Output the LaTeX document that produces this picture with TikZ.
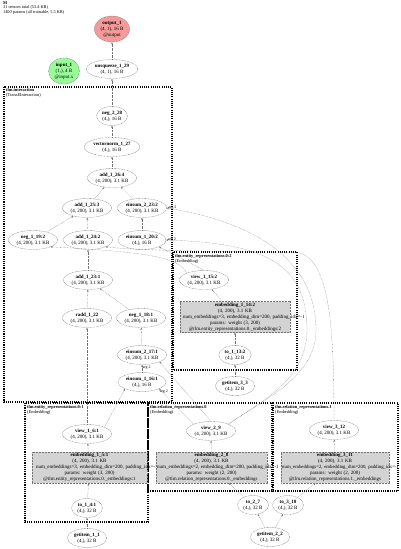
\documentclass[tikz,border=0pt]{standalone}
\usepackage{fontspec}
\setmainfont{Liberation Serif}
\usetikzlibrary{positioning}
\usetikzlibrary{shapes.geometric}
\usetikzlibrary{arrows.meta}

\definecolor{outred}{HTML}{F49A9A}
\definecolor{ingreen}{HTML}{98FB98}
\definecolor{modgray}{HTML}{D3D3D3}

\begin{document}
\begin{tikzpicture}[x=1pt, y=-1pt,
    opnode/.style={ellipse, draw=black!55, line width=0.3pt, dash pattern=on 0.9pt off 0.6pt, inner sep=1pt, minimum width=31pt, minimum height=19pt, align=center, font=\fontsize{5}{6}\selectfont},
    outnode/.style={opnode, fill=outred, minimum height=26pt},
    innode/.style={opnode, fill=ingreen, minimum height=26pt},
    layernode/.style={rectangle, draw=black!55, line width=0.3pt, dash pattern=on 0.9pt off 0.6pt, fill=modgray, inner sep=1.2pt, minimum height=31pt, align=center, font=\fontsize{5}{6}\selectfont},
    flow/.style={draw=black!55, line width=0.3pt, dash pattern=on 0.6pt off 0.8pt, -{Stealth[length=2.2pt, width=1.8pt]}},
    modbox/.style={draw=black, line width=1.5pt, dash pattern=on 1.1pt off 1.1pt},
    modlabel/.style={anchor=north west, align=left, inner sep=0pt, font=\fontsize{4.4}{5}\selectfont},
    arglabel/.style={inner sep=0.5pt, font=\fontsize{4}{4.5}\selectfont}]
    \useasboundingbox (0,0) rectangle (400,549);

    % Title
    \node[modlabel, font=\fontsize{4.3}{4.7}\selectfont] (title) at (3,1) {\textbf{M}\\31 tensors total (53.4 KB)\\1400 params (all trainable, 5.5 KB)};

    % Module boxes
    \draw[modbox] (4,87) rectangle (172,402);
    \draw[modbox] (173,252) rectangle (297,370);
    \draw[modbox] (25,403) rectangle (148,522);
    \draw[modbox] (148,403) rectangle (272,491);
    \draw[modbox] (273,403) rectangle (398,491);
    \node[modlabel] (lblint) at (6,88) {\textbf{tlm.interaction}\\(TransEInteraction)};
    \node[modlabel] (lblent2) at (175,254) {\textbf{tlm.entity\_representations.0:2}\\(Embedding)};
    \node[modlabel] (lblent1) at (27,405) {\textbf{tlm.entity\_representations.0:1}\\(Embedding)};
    \node[modlabel] (lblrel0) at (150,405) {\textbf{tlm.relation\_representations.0}\\(Embedding)};
    \node[modlabel] (lblrel1) at (275,405) {\textbf{tlm.relation\_representations.1}\\(Embedding)};

    % Nodes
    \node[outnode] (output1) at (112,29) {\textbf{output\_1}\\(4, 1), 16 B\\@output};
    \node[innode] (input1) at (64,71) {\textbf{input\_1}\\(1,), 4 B\\@input.x};
    \node[opnode] (unsq29) at (112,69) {\textbf{unsqueeze\_1\_29}\\(4, 1), 16 B};
    \node[opnode] (neg28) at (112,116) {\textbf{neg\_2\_28}\\(4,), 16 B};
    \node[opnode] (vnorm27) at (112,147) {\textbf{vectornorm\_1\_27}\\(4,), 16 B};
    \node[opnode] (add26) at (112,178) {\textbf{add\_1\_26:4}\\(4, 200), 3.1 KB};
    \node[opnode] (add25) at (87,208) {\textbf{add\_1\_25:3}\\(4, 200), 3.1 KB};
    \node[opnode] (ein23) at (142,208) {\textbf{einsum\_2\_23:2}\\(4, 200), 3.1 KB};
    \node[opnode] (neg19) at (33,240) {\textbf{neg\_1\_19:2}\\(4, 200), 3.1 KB};
    \node[opnode] (add24) at (88,240) {\textbf{add\_1\_24:2}\\(4, 200), 3.1 KB};
    \node[opnode] (ein20) at (142,240) {\textbf{einsum\_1\_20:2}\\(4,), 16 B};
    \node[opnode] (add23) at (88,280) {\textbf{add\_1\_23:1}\\(4, 200), 3.1 KB};
    \node[opnode] (radd22) at (87,318) {\textbf{radd\_1\_22}\\(4, 200), 3.1 KB};
    \node[opnode] (neg18) at (141,318) {\textbf{neg\_1\_18:1}\\(4, 200), 3.1 KB};
    \node[opnode] (ein17) at (142,355) {\textbf{einsum\_2\_17:1}\\(4, 200), 3.1 KB};
    \node[opnode] (ein16) at (142,382) {\textbf{einsum\_1\_16:1}\\(4,), 16 B};

    \node[opnode] (view15) at (204,280) {\textbf{view\_1\_15:2}\\(4, 200), 3.1 KB};
    \node[layernode, text width=107.6pt] (emb14) at (235,317) {\textbf{embedding\_1\_14:2}\\(4, 200), 3.1 KB\\\makebox[\hsize][l]{\hspace*{1.8pt}num\_embeddings=3, embedding\_dim=200, padding\_idx=-1}\\params: weight (3, 200)\\@tlm.entity\_representations.0.\_embeddings:2};
    \node[opnode] (to13) at (235,355) {\textbf{to\_1\_13:2}\\(4,), 32 B};
    \node[opnode] (get3) at (235,386) {\textbf{getitem\_3\_3}\\(4,), 32 B};

    \node[opnode] (view6) at (87,434) {\textbf{view\_1\_6:1}\\(4, 200), 3.1 KB};
    \node[layernode, text width=112.6pt] (emb5) at (89.5,467.5) {\textbf{embedding\_1\_5:1}\\(4, 200), 3.1 KB\\\makebox[\hsize][l]{\hspace*{2.8pt}num\_embeddings=3, embedding\_dim=200, padding\_idx=-1}\\params: weight (3, 200)\\@tlm.entity\_representations.0.\_embeddings:1};
    \node[opnode] (to4) at (87,508) {\textbf{to\_1\_4:1}\\(4,), 32 B};
    \node[opnode] (get1) at (87,538) {\textbf{getitem\_1\_1}\\(4,), 32 B};

    \node[opnode] (view9) at (211,431) {\textbf{view\_2\_9}\\(4, 200), 3.1 KB};
    \node[layernode, text width=108.6pt] (emb8) at (211.5,467.5) {\textbf{embedding\_2\_8}\\(4, 200), 3.1 KB\\\makebox[\hsize][l]{num\_embeddings=2, embedding\_dim=200, padding\_idx=-1}\\params: weight (2, 200)\\@tlm.relation\_representations.0.\_embeddings};
    \node[opnode] (to7) at (253,505) {\textbf{to\_2\_7}\\(4,), 32 B};
    \node[opnode] (get2) at (270,537) {\textbf{getitem\_2\_2}\\(4,), 32 B};

    \node[opnode] (view12) at (334,430) {\textbf{view\_3\_12}\\(4, 200), 3.1 KB};
    \node[layernode, text width=105.6pt] (emb11) at (335,467.5) {\textbf{embedding\_3\_11}\\(4, 200), 3.1 KB\\\makebox[\hsize][l]{\fontsize{4.8}{6}\selectfont num\_embeddings=2, embedding\_dim=200, padding\_idx=-1}\\params: weight (2, 200)\\@tlm.relation\_representations.1.\_embeddings};
    \node[opnode] (to10) at (288,505) {\textbf{to\_3\_10}\\(4,), 32 B};

    % Arrows
    \draw[flow] (unsq29) -- (output1);
    \draw[flow] (neg28) -- (unsq29);
    \draw[flow] (vnorm27) -- (neg28);
    \draw[flow] (add26) -- (vnorm27);
    \draw[flow] (add25) -- (add26);
    \draw[flow] (ein23) -- (add26);
    \draw[flow] (neg19) -- (add25);
    \draw[flow] (add24) -- (add25);
    \draw[flow] (ein20) -- (ein23);
    \draw[flow] (add23) -- (add24);
    \draw[flow] (radd22) -- (add23);
    \draw[flow] (neg18) -- (add23);
    \draw[flow] (ein17) -- (neg18);
    \draw[flow] (ein16) -- (ein17);
    \draw[flow] (view6) -- (radd22);
    \draw[flow] (view6.north east) -- (ein16.south west);
    \draw[flow] (emb5) -- (view6);
    \draw[flow] (to4) -- (emb5);
    \draw[flow] (get1) -- (to4);
    \draw[flow] (get3) -- (to13);
    \draw[flow] (to13) -- (emb14);
    \draw[flow] (emb14) -- (view15);
    \draw[flow] (view15.north west) .. controls (180,258) and (150,252) .. (neg19.south east);
    \draw[flow] (view15.north) -- (ein20.south east);
    \draw[flow] (get2) -- (to7);
    \draw[flow] (get2) -- (to10);
    \draw[flow] (to7) -- (emb8);
    \draw[flow] (to10) -- (emb11);
    \draw[flow] (emb8) -- (view9);
    \draw[flow] (emb11) -- (view12);
    \draw[flow] (view9.north west) -- (ein16.south east);
    \draw[flow] (view9.north) -- (ein17.south east);
    \draw[flow] (view9.north east) .. controls (262,400) and (316,378) .. (316,330) .. controls (316,266) and (265,224) .. (ein23.east);
    \draw[flow] (view9.north east) .. controls (255,405) and (307,382) .. (307,330) .. controls (307,262) and (262,243) .. (ein20.east);
    \draw[flow] (view12.north) .. controls (334,330) and (330,262) .. (300,253) .. controls (260,251) and (150,252) .. (add24.south east);

    % Argument labels
    \node[arglabel, anchor=west] (arg23) at ([xshift=1pt]ein23.east) {arg 2};
    \node[arglabel, anchor=west] (arg20) at ([xshift=1pt]ein20.east) {arg 2};
    \node[arglabel, anchor=north west] (arg17) at (ein17.south) {arg 2};
    \node[arglabel, anchor=north west] (arg16) at (ein16.south east) {arg 2};
\end{tikzpicture}
\end{document}
